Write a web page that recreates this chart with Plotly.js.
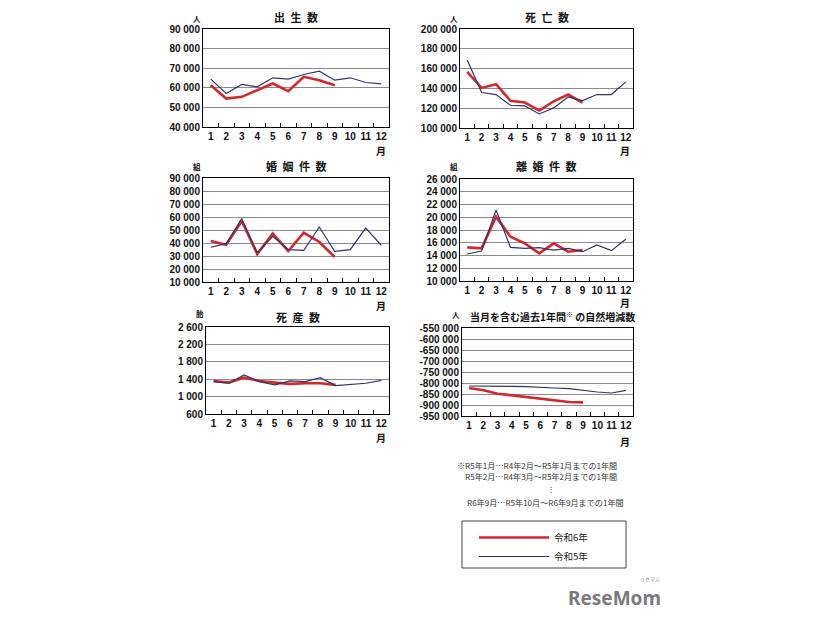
<!DOCTYPE html>
<html>
<head>
<meta charset="utf-8">
<script src="https://cdn.plot.ly/plotly-3.0.1.min.js"></script>
<style>html,body{margin:0;padding:0;background:#fff;}#chart{width:826px;height:620px;}</style>
</head>
<body>
<div id="chart"></div>
<script>
// ---- data ----
const months = ['1','2','3','4','5','6','7','8','9','10','11','12'];
const monthsR6 = months.slice(0, 9);

const birthsR6 = [61300, 54500, 55400, 58800, 62200, 58300, 65600, 63900, 61300];
const birthsR5 = [64400, 57100, 61700, 60500, 65100, 64400, 66800, 68500, 63900, 65100, 62700, 62000];

const deathsR6 = [156800, 140500, 144300, 127400, 125700, 117600, 127000, 133800, 125700];
const deathsR5 = [168600, 135800, 133800, 123000, 122300, 114200, 120300, 131400, 127700, 133800, 133800, 146600];

const marriagesR6 = [41500, 38700, 56900, 31500, 47200, 33800, 47900, 40800, 29200];
const marriagesR5 = [36700, 39500, 58700, 32600, 45100, 34900, 34400, 52300, 33600, 34900, 51500, 38200];

const divorcesR6 = [15280, 15130, 20090, 16950, 15910, 14340, 15910, 14600, 14860];
const divorcesR5 = [14240, 14710, 21140, 15280, 15120, 15220, 14860, 15120, 14600, 15650, 14760, 16540];

const stillbirthsR6 = [1360, 1322, 1436, 1360, 1322, 1292, 1307, 1307, 1270];
const stillbirthsR5 = [1345, 1307, 1497, 1345, 1270, 1360, 1345, 1436, 1254, 1285, 1307, 1375];

const naturalR6 = [-822700, -833300, -848500, -856000, -860600, -871200, -878800, -886400, -888000];
const naturalR5 = [-813600, -813600, -812000, -815000, -816700, -818200, -822700, -825800, -834800, -841000, -845500, -833300];

const birthsTicks = [40000, 50000, 60000, 70000, 80000, 90000];
const deathsTicks = [100000, 120000, 140000, 160000, 180000, 200000];
const marriagesTicks = [10000, 20000, 30000, 40000, 50000, 60000, 70000, 80000, 90000];
const divorcesTicks = [10000, 12000, 14000, 16000, 18000, 20000, 22000, 24000, 26000];
const stillbirthsTicks = [600, 1000, 1400, 1800, 2200, 2600];
const naturalTicks = [-950000, -900000, -850000, -800000, -750000, -700000, -650000, -600000, -550000];

const seriesNames = ['令和6年', '令和5年'];
const panelTitles = ['出\u2002生\u2002数', '死\u2002亡\u2002数', '婚\u2002姻\u2002件\u2002数', '離\u2002婚\u2002件\u2002数', '死\u2002産\u2002数', '当月を含む過去1年間<sup>※</sup> の自然増減数'];
const panelUnits = ['人', '人', '組', '組', '胎', '人'];
const footnotes = [
  '※R5年1月…R4年2月～R5年1月までの1年間',
  'R5年2月…R4年3月～R5年2月までの1年間',
  '⋮',
  'R6年9月…R5年10月～R6年9月までの1年間'
];

// ---- helpers ----
const W = 826, H = 620;
const px = x => x / W;
const py = y => 1 - y / H;
function fmt(v) {
  const s = Math.abs(v).toString().replace(/\B(?=(\d{3})+(?!\d))/g, ' ');
  return (v < 0 ? '-' : '') + s;
}
const RED = '#d4262b', BLUE = '#2f3568';
const CJK = '"Noto Sans CJK JP", sans-serif';
const NUM = '"Liberation Sans", Arial, sans-serif';

// panel pixel boxes [left, right, top, bottom]
const boxes = [
  [203, 389, 29, 127],
  [460, 633, 29, 128],
  [203, 389, 178, 282],
  [460, 633, 179, 281],
  [206, 389, 327, 414],
  [462, 633, 328, 416]
];
const monthLabelY = [150, 150, 305, 302, 437, 441];
const titleY = [17, 17, 166, 166, 317, 317];
const unitY = [18, 18, 167, 167, 313, 314];
const panels = [
  {r6: birthsR6, r5: birthsR5, ticks: birthsTicks},
  {r6: deathsR6, r5: deathsR5, ticks: deathsTicks},
  {r6: marriagesR6, r5: marriagesR5, ticks: marriagesTicks},
  {r6: divorcesR6, r5: divorcesR5, ticks: divorcesTicks},
  {r6: stillbirthsR6, r5: stillbirthsR5, ticks: stillbirthsTicks},
  {r6: naturalR6, r5: naturalR5, ticks: naturalTicks}
];

const data = [];
const layout = {
  width: W, height: H,
  margin: {l: 0, r: 0, t: 0, b: 0},
  paper_bgcolor: '#fff', plot_bgcolor: '#fff',
  showlegend: true,
  legend: {
    x: px(474), y: py(547), xanchor: 'left', yanchor: 'middle',
    bgcolor: 'rgba(0,0,0,0)', borderwidth: 0,
    font: {family: CJK, size: 9.5, color: '#222'},
    itemwidth: 70, tracegroupgap: 0
  },
  annotations: [],
  shapes: []
};

panels.forEach((p, i) => {
  const n = i + 1;
  const xa = 'x' + (n === 1 ? '' : n), ya = 'y' + (n === 1 ? '' : n);
  const xkey = 'xaxis' + (n === 1 ? '' : n), ykey = 'yaxis' + (n === 1 ? '' : n);
  const b = boxes[i];
  data.push({
    x: monthsR6, y: p.r6, type: 'scatter', mode: 'lines', name: seriesNames[0],
    line: {color: RED, width: 2.6}, xaxis: xa, yaxis: ya,
    showlegend: i === 0, legendgroup: 'r6', hoverinfo: 'skip'
  });
  data.push({
    x: months, y: p.r5, type: 'scatter', mode: 'lines', name: seriesNames[1],
    line: {color: BLUE, width: 1.2}, xaxis: xa, yaxis: ya,
    showlegend: i === 0, legendgroup: 'r5', hoverinfo: 'skip'
  });
  layout[xkey] = {
    domain: [px(b[0]), px(b[1])], anchor: ya,
    type: 'category', categoryorder: 'array', categoryarray: months,
    range: [-0.5, 11.5], tickson: 'boundaries', ticks: 'inside', ticklen: 4,
    tickcolor: '#000', tickwidth: 1, tickangle: 0,
    showgrid: false, zeroline: false,
    showline: true, linecolor: '#000', linewidth: 1, mirror: true,
    tickfont: {family: NUM, size: 10, color: '#111', weight: 'bold'},
    fixedrange: true
  };
  const t = p.ticks;
  layout[ykey] = {
    domain: [py(b[3]), py(b[2])], anchor: xa,
    range: [t[0], t[t.length - 1]],
    tickmode: 'array', tickvals: t, ticktext: t.map(fmt),
    ticks: '', showgrid: true, gridcolor: '#8a8a8a', gridwidth: 1,
    zeroline: false, showline: true, linecolor: '#000', linewidth: 1, mirror: true,
    tickfont: {family: NUM, size: 10, color: '#111', weight: 'bold'},
    fixedrange: true
  };
  // panel title
  layout.annotations.push({
    xref: 'paper', yref: 'paper', x: px((b[0] + b[1]) / 2 + (i === 5 ? 5 : 0)), y: py(titleY[i]),
    text: panelTitles[i], showarrow: false, xanchor: 'center', yanchor: 'middle',
    font: {family: CJK, size: i === 5 ? 10 : 11, color: '#111', weight: 'bold'}
  });
  // unit
  layout.annotations.push({
    xref: 'paper', yref: 'paper', x: px(b[0] - 6), y: py(unitY[i]),
    text: panelUnits[i], showarrow: false, xanchor: 'center', yanchor: 'middle',
    font: {family: CJK, size: 7.5, color: '#111', weight: 'bold'}
  });
  // 月
  layout.annotations.push({
    xref: 'paper', yref: 'paper', x: px(b[1] - 8), y: py(monthLabelY[i]),
    text: '月', showarrow: false, xanchor: 'center', yanchor: 'middle',
    font: {family: CJK, size: 10, color: '#111', weight: 'bold'}
  });
});

// footnotes
const fnPos = [[455, 465, 'left'], [463, 476, 'left'], [551, 488, 'center'], [465, 502, 'left']];
footnotes.forEach((f, k) => {
  layout.annotations.push({
    xref: 'paper', yref: 'paper', x: px(fnPos[k][0]), y: py(fnPos[k][1]),
    text: f, showarrow: false, xanchor: fnPos[k][2], yanchor: 'middle',
    font: {family: CJK, size: 8.1, color: '#333'}
  });
});

// legend frame
layout.shapes.push({
  type: 'rect', xref: 'paper', yref: 'paper',
  x0: px(462), x1: px(626), y0: py(568), y1: py(521),
  line: {color: '#444', width: 1}, fillcolor: 'rgba(0,0,0,0)'
});

// logo
layout.annotations.push({
  xref: 'paper', yref: 'paper', x: px(566), y: py(598),
  text: 'ReseMom', showarrow: false, xanchor: 'left', yanchor: 'middle',
  font: {family: '"Noto Sans", sans-serif', size: 19, color: '#7a7a7a', weight: 'bold'}
});
layout.annotations.push({
  xref: 'paper', yref: 'paper', x: px(650), y: py(579),
  text: 'リセマム', showarrow: false, xanchor: 'center', yanchor: 'middle',
  font: {family: CJK, size: 5, color: '#8a8a8a'}
});

Plotly.newPlot('chart', data, layout, {staticPlot: true, displayModeBar: false});
</script>
</body>
</html>
